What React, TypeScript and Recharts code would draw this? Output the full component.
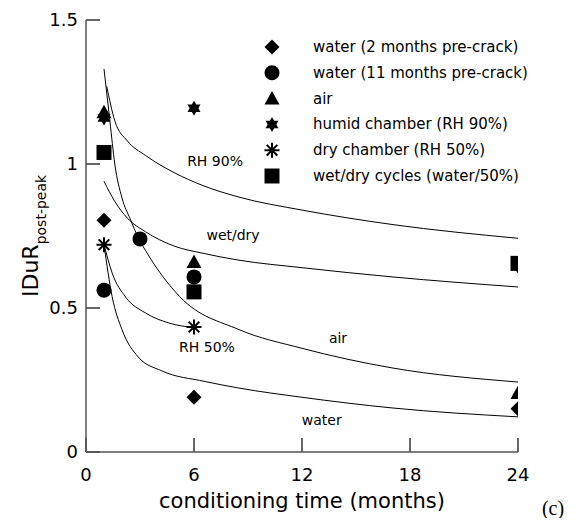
import React from "react";
import {
  ComposedChart,
  Line,
  Scatter,
  XAxis,
  YAxis,
  ReferenceDot,
  ReferenceLine,
  Customized,
} from "recharts";

// measured points (months, IDuR post-peak)
const water2Months = [
  { m: 1, v: 0.805 },
  { m: 6, v: 0.19 },
  { m: 24, v: 0.15 },
];
const water11Months = [
  { m: 1, v: 0.562 },
  { m: 3, v: 0.74 },
  { m: 6, v: 0.608 },
];
const airPoints = [
  { m: 1, v: 1.18 },
  { m: 6, v: 0.66 },
  { m: 24, v: 0.205 },
];
const humidPoints = [
  { m: 1, v: 1.16 },
  { m: 6, v: 1.194 },
  { m: 24, v: 0.645 },
];
const dryPoints = [
  { m: 1, v: 0.72 },
  { m: 6, v: 0.434 },
];
const wetDryPoints = [
  { m: 1, v: 1.04 },
  { m: 6, v: 0.556 },
  { m: 24, v: 0.655 },
];

// fitted trend curves
const rh90Curve = [
  { m: 1.15, v: 1.27 },
  { m: 1.6, v: 1.15 },
  { m: 2.3, v: 1.08 },
  { m: 3.3, v: 1.03 },
  { m: 4.9, v: 0.97 },
  { m: 6.5, v: 0.925 },
  { m: 8.5, v: 0.885 },
  { m: 12, v: 0.84 },
  { m: 17, v: 0.79 },
  { m: 24, v: 0.742 },
];
const wetDryCurve = [
  { m: 1, v: 0.94 },
  { m: 1.6, v: 0.87 },
  { m: 2.3, v: 0.812 },
  { m: 3.3, v: 0.765 },
  { m: 4.9, v: 0.715 },
  { m: 6.5, v: 0.69 },
  { m: 8.5, v: 0.666 },
  { m: 12, v: 0.64 },
  { m: 17, v: 0.608 },
  { m: 24, v: 0.573 },
];
const airCurve = [
  { m: 1, v: 1.33 },
  { m: 1.33, v: 1.148 },
  { m: 1.6, v: 1.0 },
  { m: 2, v: 0.882 },
  { m: 2.45, v: 0.81 },
  { m: 2.9, v: 0.745 },
  { m: 3.45, v: 0.685 },
  { m: 5.2, v: 0.54 },
  { m: 8.5, v: 0.425 },
  { m: 12, v: 0.36 },
  { m: 17, v: 0.292 },
  { m: 24, v: 0.243 },
];
const rh50Curve = [
  { m: 1, v: 0.72 },
  { m: 1.45, v: 0.622 },
  { m: 2.2, v: 0.538 },
  { m: 3.3, v: 0.483 },
  { m: 4.6, v: 0.448 },
  { m: 6, v: 0.432 },
];
const waterCurve = [
  { m: 1, v: 0.72 },
  { m: 1.45, v: 0.54 },
  { m: 2, v: 0.425 },
  { m: 2.9, v: 0.33 },
  { m: 4.2, v: 0.282 },
  { m: 6.6, v: 0.245 },
  { m: 8.5, v: 0.222 },
  { m: 12, v: 0.19 },
  { m: 17, v: 0.153 },
  { m: 24, v: 0.122 },
];

const xTicks = [0, 6, 12, 18, 24];
const yTicks = [0, 0.5, 1, 1.5];

const curveLabels = [
  { text: "RH 90%", m: 7.17, v: 1.01 },
  { text: "wet/dry", m: 8.17, v: 0.753 },
  { text: "air", m: 14, v: 0.396 },
  { text: "RH 50%", m: 6.72, v: 0.365 },
  { text: "water", m: 13.1, v: 0.111 },
];

const series = [
  { name: "water (2 months pre-crack)", kind: "diamond", data: water2Months },
  { name: "water (11 months pre-crack)", kind: "circle", data: water11Months },
  { name: "air", kind: "triangle", data: airPoints },
  { name: "humid chamber (RH 90%)", kind: "star", data: humidPoints },
  { name: "dry chamber (RH 50%)", kind: "asterisk", data: dryPoints },
  { name: "wet/dry cycles (water/50%)", kind: "square", data: wetDryPoints },
];

const curves = [rh90Curve, wetDryCurve, airCurve, rh50Curve, waterCurve];

const FONT = "'DejaVu Sans', sans-serif";
const AXIS = "#555";
// inward tick length (14px) expressed in axis units
const X_TICK_LEN = 14 / 288;
const Y_TICK_LEN = 14 / 18;

function marker(kind: string, cx: number, cy: number, key?: string) {
  switch (kind) {
    case "diamond":
      return <path key={key} d={`M${cx},${cy - 7.5}L${cx + 7.5},${cy}L${cx},${cy + 7.5}L${cx - 7.5},${cy}Z`} fill="#000" />;
    case "circle":
      return <circle key={key} cx={cx} cy={cy} r={7.5} fill="#000" />;
    case "triangle":
      return <path key={key} d={`M${cx},${cy - 7.5}L${cx + 7.5},${cy + 6}L${cx - 7.5},${cy + 6}Z`} fill="#000" />;
    case "star":
      return (
        <g key={key}>
          <path d={`M${cx},${cy - 7.5}L${cx + 6.5},${cy + 3.75}L${cx - 6.5},${cy + 3.75}Z`} fill="#000" />
          <path d={`M${cx},${cy + 7.5}L${cx + 6.5},${cy - 3.75}L${cx - 6.5},${cy - 3.75}Z`} fill="#000" />
        </g>
      );
    case "asterisk": {
      const r = 7.5;
      const d = r * 0.707;
      return (
        <path
          key={key}
          d={`M${cx - r},${cy}L${cx + r},${cy}M${cx},${cy - r}L${cx},${cy + r}M${cx - d},${cy - d}L${cx + d},${cy + d}M${cx - d},${cy + d}L${cx + d},${cy - d}`}
          stroke="#000"
          strokeWidth={2}
        />
      );
    }
    default:
      return <rect key={key} x={cx - 7.5} y={cy - 7.5} width={15} height={15} fill="#000" />;
  }
}

const Extras = () => (
  <g fontFamily={FONT} fill="#000">
    {series.map((s, i) => {
      const y = 39 + i * 25.8;
      return (
        <g key={s.name}>
          {marker(s.kind, 264, y)}
          <text x={305} y={y + 5} fontSize={15}>
            {s.name}
          </text>
        </g>
      );
    })}
    <text x={294} y={500} fontSize={21} textAnchor="middle">
      conditioning time (months)
    </text>
    <text x={545} y={507} fontSize={20} textAnchor="middle" fontFamily="'Liberation Serif', serif">
      (c)
    </text>
    <text transform="translate(30,289) rotate(-90)" fontSize={22}>
      IDuR
      <tspan fontSize={14} dy={8}>
        post-peak
      </tspan>
    </text>
  </g>
);

export default function App() {
  return (
    <ComposedChart
      width={558}
      height={510}
      margin={{ top: 12, right: 48, bottom: 26, left: 18 }}
    >
      <XAxis
        dataKey="m"
        type="number"
        domain={[0, 24]}
        ticks={xTicks}
        height={40}
        stroke={AXIS}
        strokeWidth={1.5}
        tickSize={0}
        tickMargin={16}
        tickLine={false}
        tick={{ fontSize: 18, fill: "#000", fontFamily: FONT }}
        allowDataOverflow
      />
      <YAxis
        dataKey="v"
        type="number"
        domain={[0, 1.5]}
        ticks={yTicks}
        width={60}
        stroke={AXIS}
        strokeWidth={1.5}
        tickSize={0}
        tickMargin={8}
        tickLine={false}
        tick={{ fontSize: 18, fill: "#000", fontFamily: FONT }}
        allowDataOverflow
      />
      {xTicks.map((t) => (
        <ReferenceLine
          key={`xt-${t}`}
          segment={[{ x: t, y: 0 }, { x: t, y: X_TICK_LEN }]}
          stroke="#333"
          strokeWidth={1.5}
          ifOverflow="visible"
        />
      ))}
      {yTicks.map((t) => (
        <ReferenceLine
          key={`yt-${t}`}
          segment={[{ x: 0, y: t }, { x: Y_TICK_LEN, y: t }]}
          stroke="#333"
          strokeWidth={1.5}
          ifOverflow="visible"
        />
      ))}
      {curves.map((c, i) => (
        <Line
          key={`curve-${i}`}
          data={c}
          dataKey="v"
          type="monotone"
          stroke="#000"
          strokeWidth={1}
          dot={false}
          legendType="none"
          isAnimationActive={false}
        />
      ))}
      {series.map((s) => (
        <Scatter
          key={s.name}
          name={s.name}
          data={s.data}
          isAnimationActive={false}
          shape={(p: any) => marker(s.kind, p.cx, p.cy)}
        />
      ))}
      {curveLabels.map((l) => (
        <ReferenceDot
          key={l.text}
          x={l.m}
          y={l.v}
          r={0}
          stroke="none"
          label={{ value: l.text, position: "center", fontSize: 14, fill: "#000", fontFamily: FONT }}
        />
      ))}
      <Customized component={Extras} />
    </ComposedChart>
  );
}
